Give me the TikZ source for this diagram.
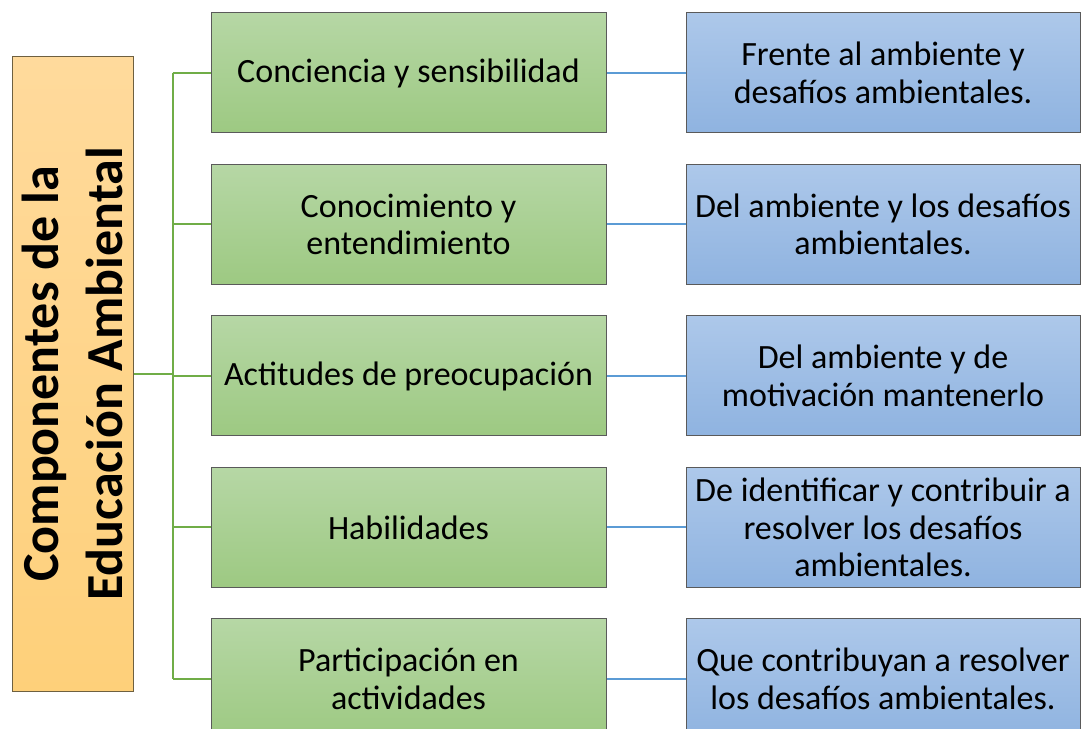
\documentclass[tikz,border=0pt]{standalone}
\usepackage{fontspec}
\setmainfont{Carlito}
\usepackage{tikz}
\usetikzlibrary{positioning}

\definecolor{gtop}{HTML}{B6D7A5}
\definecolor{gbot}{HTML}{9DC982}
\definecolor{btop}{HTML}{ADC8EA}
\definecolor{bbot}{HTML}{8FB3E0}
\definecolor{otop}{HTML}{FFDA9C}
\definecolor{obot}{HTML}{FED07A}
\definecolor{gwire}{HTML}{70AD47}
\definecolor{bwire}{HTML}{5B9BD5}
\definecolor{edge}{HTML}{5A5A5A}
\definecolor{oedge}{HTML}{6E6040}

\begin{document}
\begin{tikzpicture}[x=1pt,y=1pt, node distance=30.5pt and 79pt,
	box/.style={draw=edge, line width=1pt, minimum height=120pt, inner sep=1pt, align=center,
		font=\fontsize{34}{37.5}\selectfont},
	comp/.style={box, top color=gtop, bottom color=gbot, minimum width=395pt},
	goal/.style={box, top color=btop, bottom color=bbot, minimum width=394pt},
	title/.style={draw=oedge, line width=1pt, rotate=90, align=center,
		top color=otop, bottom color=obot, minimum width=634pt, minimum height=121pt,
		font=\fontsize{52}{64}\selectfont\bfseries},
	gline/.style={draw=gwire, line width=2pt},
	bline/.style={draw=bwire, line width=2pt}]
    \useasboundingbox (0,0) rectangle (1081,728);
    \node[title] (edu) at (72.5,354) {Componentes de la\\Educación Ambiental};
    \node[comp] (g1) at (408.5,655) {Conciencia y sensibilidad};
    \node[comp, below=of g1] (g2) {Conocimiento y\\entendimiento};
    \node[comp, below=of g2] (g3) {Actitudes de preocupación};
    \node[comp, below=of g3] (g4) {Habilidades};
    \node[comp, below=of g4] (g5) {Participación en\\actividades};
    \node[goal, right=of g1] (b1) {Frente al ambiente y\\desafíos ambientales.};
    \node[goal, right=of g2] (b2) {Del ambiente y los desafíos\\ambientales.};
    \node[goal, right=of g3] (b3) {Del ambiente y de\\motivación mantenerlo};
    \node[goal, right=of g4] (b4) {De identificar y contribuir a\\resolver los desafíos\\ambientales.};
    \node[goal, right=of g5] (b5) {Que contribuyan a resolver\\los desafíos ambientales.};
    % green tree
    \coordinate (bus) at ([xshift=-38pt]g1.west);
    \draw[gline] (bus) -- (bus |- g5.west);
    \draw[gline] (edu.south) -- (edu.south -| bus);
    \foreach \i in {1,...,5}
      \draw[gline] (bus |- g\i.west) -- (g\i.west);
    % blue links
    \foreach \i in {1,...,5}
      \draw[bline] (g\i.east) -- (b\i.west);
\end{tikzpicture}
\end{document}
